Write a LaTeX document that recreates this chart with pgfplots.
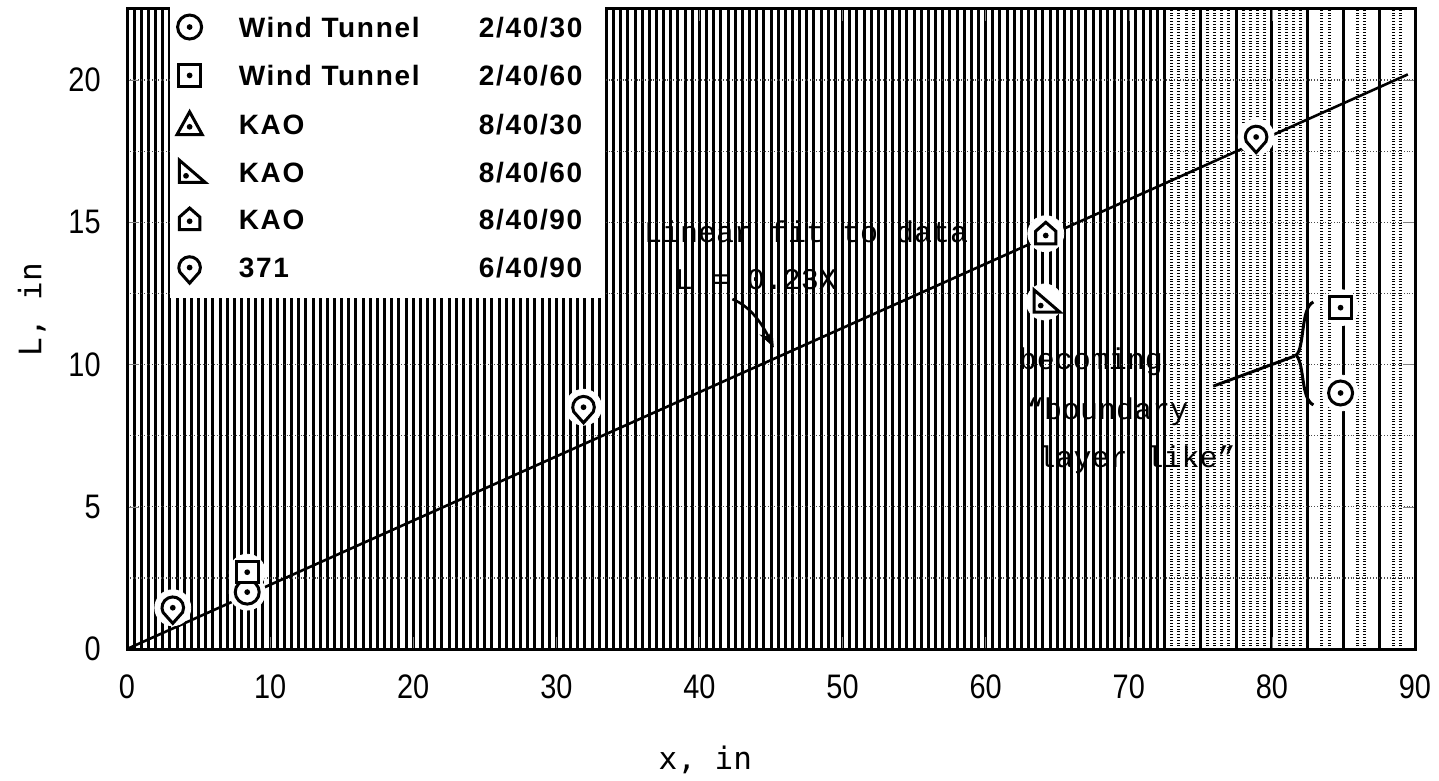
\documentclass[border=0pt]{standalone}
\usepackage{pgfplots}
\pgfplotsset{compat=1.18}
\usepackage{fontspec}
\usetikzlibrary{arrows.meta}
\setmainfont{Liberation Sans}
\newfontfamily\tickfont{Liberation Sans}[FakeStretch=0.85]
\newfontfamily\legfont{Liberation Sans}[LetterSpace=6]
\newfontfamily\annfont{Liberation Mono}
\newfontfamily\labfont{DejaVu Sans Mono}

\newcommand\markdot[2]{\pgfscope\pgfsetfillcolor{black}\pgfpathcircle{\pgfpoint{#1\pgfplotmarksize}{#2\pgfplotmarksize}}{0.24\pgfplotmarksize}\pgfusepathqfill\endpgfscope}
\pgfdeclareplotmark{circdot}{%
  \pgfpathcircle{\pgfpointorigin}{\pgfplotmarksize}\pgfusepathqfillstroke
  \markdot{0}{0}}
\pgfdeclareplotmark{sqdot}{%
  \pgfpathrectangle{\pgfpoint{-0.9\pgfplotmarksize}{-0.9\pgfplotmarksize}}{\pgfpoint{1.8\pgfplotmarksize}{1.8\pgfplotmarksize}}\pgfusepathqfillstroke
  \markdot{0}{0}}
\pgfdeclareplotmark{tridot}{%
  \pgfpathmoveto{\pgfpoint{0pt}{1.05\pgfplotmarksize}}
  \pgfpathlineto{\pgfpoint{-1.05\pgfplotmarksize}{-0.85\pgfplotmarksize}}
  \pgfpathlineto{\pgfpoint{1.05\pgfplotmarksize}{-0.85\pgfplotmarksize}}
  \pgfpathclose\pgfusepathqfillstroke
  \markdot{0}{-0.2}}
\pgfdeclareplotmark{rtridot}{%
  \pgfpathmoveto{\pgfpoint{-0.85\pgfplotmarksize}{1.0\pgfplotmarksize}}
  \pgfpathlineto{\pgfpoint{-0.85\pgfplotmarksize}{-0.85\pgfplotmarksize}}
  \pgfpathlineto{\pgfpoint{1.3\pgfplotmarksize}{-0.85\pgfplotmarksize}}
  \pgfpathclose\pgfusepathqfillstroke
  \markdot{-0.3}{-0.3}}
\pgfdeclareplotmark{housedot}{%
  \pgfpathmoveto{\pgfpoint{-0.85\pgfplotmarksize}{-0.85\pgfplotmarksize}}
  \pgfpathlineto{\pgfpoint{0.85\pgfplotmarksize}{-0.85\pgfplotmarksize}}
  \pgfpathlineto{\pgfpoint{0.85\pgfplotmarksize}{0.2\pgfplotmarksize}}
  \pgfpathlineto{\pgfpoint{0pt}{0.95\pgfplotmarksize}}
  \pgfpathlineto{\pgfpoint{-0.85\pgfplotmarksize}{0.2\pgfplotmarksize}}
  \pgfpathclose\pgfusepathqfillstroke
  \markdot{0}{-0.15}}
\pgfdeclareplotmark{pindot}{%
  \pgfpathmoveto{\pgfpoint{0pt}{-1.3\pgfplotmarksize}}
  \pgfpathlineto{\pgfpoint{-0.816\pgfplotmarksize}{-0.38\pgfplotmarksize}}
  \pgfpatharc{205}{-25}{0.9\pgfplotmarksize}
  \pgfpathclose\pgfusepathqfillstroke
  \markdot{0}{0}}

\begin{document}
\begin{tikzpicture}
\begin{axis}[
  at={(63.5pt,66pt)}, anchor=south west,
  scale only axis, width=644pt, height=320pt,
  xmin=0, xmax=90, ymin=0, ymax=22.5,
  xtick={0,10,...,90},
  ytick={0,5,...,20},
  minor xtick={0.5,1,...,72,72.5,75,77.5,82.5,85,87.5},
  minor ytick={2.5,7.5,...,22.5},
  extra x ticks={73,73.5,74,74.5,75.5,76,76.5,77,78,78.5,79,79.5,80.5,81,81.5,82,83.5,84,86,86.5,88.5,89},
  extra x tick labels={},
  extra x tick style={grid style={black, densely dotted, line width=1.3pt}, major tick length=0pt},
  xmajorgrids, xminorgrids, ymajorgrids, yminorgrids,
  x grid style={black, line width=1.5pt},
  y grid style={black!70, densely dotted, line width=0.7pt},
  tick align=inside, major tick length=6pt, minor tick length=0pt,
  axis line style={line width=1.5pt},
  /pgf/number format/assume math mode=true,
  tick label style={font=\tickfont\fontsize{17}{17}\selectfont},
  xticklabel style={anchor=center, yshift=-19pt},
  yticklabel style={anchor=east, inner sep=0pt, xshift=-13pt},
  xlabel={x, in}, ylabel={L, in},
  label style={font=\labfont\fontsize{15.5}{15.5}\selectfont},
  x label style={at={(axis description cs:0.449,-0.173)}, anchor=center},
  y label style={at={(axis description cs:-0.074,0.53)}, anchor=center},
  mark size=6pt,
  legend cell align=left,
  legend image code/.code={\draw[#1] plot coordinates {(0pt,0pt)};},
  legend style={at={(axis description cs:0.0334,1.014)}, anchor=north west,
    fill=white, draw=none, inner xsep=3.3pt, inner ysep=7.3pt, row sep=12.8pt,
    font=\legfont\bfseries\fontsize{14}{14}\selectfont,
    /tikz/every odd column/.append style={column sep=16.8pt},
    nodes={inner sep=0pt, text height=10pt, text depth=0pt}},
]
% fit line
\addplot[black, line width=1.3pt, forget plot] coordinates {(0,0) (89.5,20.2)};
% white halos around the points
\addplot[only marks, mark=*, mark size=9pt, mark options={draw=white, fill=white}, forget plot] coordinates {
 (8.4,2.0) (84.8,9.0) (8.4,2.7) (84.8,12.0) (64.1,12.2) (64.2,14.6) (3.2,1.45) (31.9,8.5) (78.9,18.0)};
\addplot[only marks, mark=circdot, mark options={draw=black, fill=white, line width=1.5pt}] coordinates {(8.4,2.0) (84.8,9.0)};
\addlegendentry{\makebox[120pt][l]{Wind Tunnel}\makebox[60pt][l]{2/40/30}}
\addplot[only marks, mark=sqdot, mark options={draw=black, fill=white, line width=1.5pt}] coordinates {(8.4,2.7) (84.8,12.0)};
\addlegendentry{\makebox[120pt][l]{Wind Tunnel}\makebox[60pt][l]{2/40/60}}
\addlegendimage{only marks, mark=tridot, mark options={draw=black, fill=white, line width=1.5pt}}
\addlegendentry{\makebox[120pt][l]{KAO}\makebox[60pt][l]{8/40/30}}
\addplot[only marks, mark=rtridot, mark options={draw=black, fill=white, line width=1.5pt}] coordinates {(64.1,12.2)};
\addlegendentry{\makebox[120pt][l]{KAO}\makebox[60pt][l]{8/40/60}}
\addplot[only marks, mark=housedot, mark options={draw=black, fill=white, line width=1.5pt}] coordinates {(64.2,14.6)};
\addlegendentry{\makebox[120pt][l]{KAO}\makebox[60pt][l]{8/40/90}}
\addplot[only marks, mark=pindot, mark options={draw=black, fill=white, line width=1.5pt}] coordinates {(3.2,1.45) (31.9,8.5) (78.9,18.0)};
\addlegendentry{\makebox[120pt][l]{371}\makebox[60pt][l]{6/40/90}}
% annotations
\begin{scope}[every node/.style={anchor=west, inner sep=0pt, font=\annfont\fontsize{15}{15}\selectfont}]
\node at (axis cs:36.1,14.66) {Linear fit to data};
\node at (axis cs:38.25,12.97) {L = 0.23X};
\node at (axis cs:62.3,10.09) {becoming};
\node at (axis cs:62.8,8.33) {“boundary};
\node at (axis cs:63.6,6.64) {layer like”};
\end{scope}
\draw[line width=1.3pt, -{Stealth[length=9pt,width=7pt]}] (axis cs:42.3,12.3) .. controls (axis cs:43.8,12.0) and (axis cs:44.6,11.2) .. (axis cs:45.2,10.6);
\draw[line width=1.5pt] (axis cs:82.9,12.2) .. controls (axis cs:82.0,12.0) and (axis cs:82.3,10.6) .. (axis cs:81.7,10.33) .. controls (axis cs:82.3,10.0) and (axis cs:82.0,8.8) .. (axis cs:82.9,8.58);
\draw[line width=1.5pt] (axis cs:75.9,9.24) -- (axis cs:81.6,10.3);
\end{axis}
\pgfresetboundingbox
\useasboundingbox (0,0) rectangle (719.5pt,390.5pt);
\end{tikzpicture}
\end{document}
